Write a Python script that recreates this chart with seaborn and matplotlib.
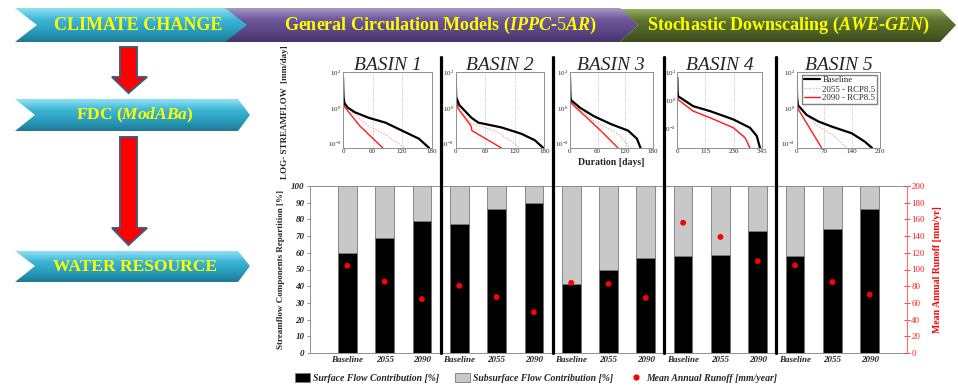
import numpy as np
import pandas as pd
import matplotlib
matplotlib.use('Agg')
import matplotlib.pyplot as plt
import matplotlib.transforms as mtransforms
from matplotlib.patches import Polygon, Patch
from matplotlib.lines import Line2D
from matplotlib.colors import LinearSegmentedColormap
from matplotlib.ticker import NullLocator, FixedLocator
import seaborn as sns

# ---- bar chart data (5 basins x 3 periods)
periods = ['Baseline', '2055', '2090'] * 5
surface = [60.0, 69.0, 78.8, 77.5, 86.3, 89.6, 41.4, 50.0, 56.8, 57.8, 58.4, 73.2, 58.2, 74.0, 86.0]
runoff = [104.5, 85.5, 64.5, 80.5, 67.0, 48.8, 84.0, 82.8, 66.0, 156.0, 139.0, 110.0, 105.0, 85.0, 70.0]

# ---- flow duration curves: (duration [days], log10 streamflow [mm/day])
basins = ['BASIN 1', 'BASIN 2', 'BASIN 3', 'BASIN 4', 'BASIN 5']
fdc_xmax = [180, 180, 180, 345, 210]
fdc_ymin = [-2.25, -2.25, -2.25, -3.4, -2.25]

b1_base = ([0, 1, 3, 10, 24, 52, 86, 120, 154, 175], [1.7, 0.6, 0.25, 0.0, -0.25, -0.56, -0.83, -1.28, -1.73, -2.25])
b1_2055 = ([0, 1, 3, 51, 85, 126], [1.7, 0.5, 0.15, -1.01, -1.5, -2.25])
b1_2090 = ([0, 1, 3, 34, 81], [1.7, 0.4, 0.05, -1.01, -2.25])

b2_base = ([0, 1, 7, 32, 46, 93, 134, 161, 178], [1.7, 0.6, 0.16, -0.56, -0.83, -1.1, -1.46, -1.82, -2.25])
b2_2055 = ([0, 1, 5, 32, 80, 120, 130], [1.7, 0.5, 0.0, -0.88, -1.28, -2.0, -2.25])
b2_2090 = ([0, 1, 5, 31, 33, 93], [1.7, 0.4, -0.05, -1.01, -1.28, -2.25])

b3_base = ([0, 1, 2, 22, 52, 90, 127, 146, 154], [1.7, 0.6, 0.43, 0.0, -0.47, -0.92, -1.28, -1.73, -2.25])
b3_2055 = ([0, 1, 3, 52, 105, 131], [1.7, 0.5, 0.3, -0.74, -1.46, -2.25])
b3_2090 = ([0, 1, 3, 37, 67, 105], [1.7, 0.45, 0.25, -0.56, -1.28, -2.25])

b4_base = ([0, 1, 3, 65, 134, 229, 297, 325, 338], [1.6, 0.7, 0.28, -0.43, -0.78, -1.37, -1.96, -2.55, -3.4])
b4_2055 = ([0, 1, 3, 65, 134, 229, 277, 297], [1.6, 0.5, 0.04, -0.78, -1.25, -1.96, -2.67, -3.4])
b4_2090 = ([0, 1, 3, 65, 134, 229, 277, 297], [1.6, 0.5, 0.04, -0.78, -1.25, -1.96, -2.67, -3.4])

b5_base = ([0, 1, 3, 25, 55, 88, 139, 172, 190], [1.7, 0.6, 0.15, -0.4, -0.77, -1.05, -1.43, -1.9, -2.25])
b5_2055 = ([0, 1, 3, 55, 97, 126], [1.7, 0.5, 0.05, -1.05, -1.62, -2.25])
b5_2090 = ([0, 1, 3, 38, 63], [1.7, 0.4, -0.05, -1.33, -2.25])

curves = [(b1_base, b1_2055, b1_2090), (b2_base, b2_2055, b2_2090), (b3_base, b3_2055, b3_2090),
          (b4_base, b4_2055, b4_2090), (b5_base, b5_2055, b5_2090)]

sns.set_style('white')
plt.rcParams['font.family'] = ['Liberation Serif', 'DejaVu Serif']
plt.rcParams['mathtext.fontset'] = 'custom'
plt.rcParams['mathtext.it'] = 'Liberation Serif:italic:bold'
plt.rcParams['mathtext.rm'] = 'Liberation Serif'

W, H = 958, 386
fig = plt.figure(figsize=(W / 100, H / 100), dpi=100)

def px_axes(x0, x1, y0, y1, **kw):
    return fig.add_axes([x0 / W, 1 - y1 / H, (x1 - x0) / W, (y1 - y0) / H], **kw)

# ---- background: banners and arrows
bg = px_axes(0, W, 0, H, zorder=-1)

def chevron(pts, colors):
    poly = Polygon(pts, closed=True, facecolor='none', edgecolor='none')
    bg.add_patch(poly)
    xs = [p[0] for p in pts]
    ys = [p[1] for p in pts]
    cmap = LinearSegmentedColormap.from_list('g', colors)
    grad = np.linspace(0, 1, 64).reshape(-1, 1)
    im = bg.imshow(grad, cmap=cmap, extent=(min(xs), max(xs), max(ys), min(ys)),
                   aspect='auto', interpolation='bilinear')
    im.set_clip_path(poly)

cyan = ['#8fe0f2', '#3fb6d6', '#2a9dbd', '#1e7a96']
purple = ['#a797c8', '#6c589a', '#5c4887', '#45356b']
green = ['#98ad62', '#5d7430', '#4f6326', '#3b4a1c']

chevron([(620, 9), (940, 9), (956, 25), (940, 42), (620, 42), (638, 25)], green)
chevron([(223, 8), (620, 8), (638, 25), (620, 42), (223, 42), (245, 25)], purple)
chevron([(15, 8), (225, 8), (247, 25), (225, 42), (15, 42), (37, 25)], cyan)
chevron([(15, 99), (238, 99), (250, 115), (238, 131), (15, 131), (35, 115)], cyan)
chevron([(15, 251), (238, 251), (250, 266), (238, 282), (15, 282), (35, 266)], cyan)

ytxt = '#ffff00'
bg.text(138, 25.5, 'CLIMATE CHANGE', ha='center', va='center', color=ytxt, fontsize=13, fontweight='bold')
bg.text(440, 25.5, r'General Circulation Models ($\mathit{IPPC}$-$\mathit{5AR}$)', ha='center', va='center',
        color=ytxt, fontsize=13, fontweight='bold')
bg.text(788, 25.5, r'Stochastic Downscaling ($\mathit{AWE}$-$\mathit{GEN}$)', ha='center', va='center',
        color=ytxt, fontsize=13, fontweight='bold')
bg.text(135, 115.5, r'FDC ($\mathit{ModABa}$)', ha='center', va='center', color=ytxt, fontsize=12.5, fontweight='bold')
bg.text(135, 267, 'WATER RESOURCE', ha='center', va='center', color=ytxt, fontsize=12.5, fontweight='bold')

def arrow(y0, yh, yt):
    pts = [(120, y0), (137, y0), (137, yh), (147, yh), (128.5, yt), (112, yh), (120, yh)]
    bg.add_patch(Polygon(pts, closed=True, facecolor='#ff0000', edgecolor='#3d5a80', lw=1.4))

arrow(47, 77, 93)
arrow(137, 228, 245)

bg.set_xlim(0, W)
bg.set_ylim(H, 0)
bg.axis('off')

# ---- bar chart
df = pd.DataFrame({'idx': range(15), 'total': [100] * 15, 'surface': surface, 'runoff': runoff})
ax = px_axes(310, 907, 186, 353)
sns.barplot(data=df, x='idx', y='total', color='#c8c8c8', width=0.5, saturation=1,
            edgecolor='#7a7a7a', linewidth=0.6, ax=ax)
sns.barplot(data=df, x='idx', y='surface', color='black', width=0.5, saturation=1,
            edgecolor='#7a7a7a', linewidth=0.6, ax=ax)
ax.set_xlim(-1, 15)
ax.set_ylim(0, 100)
ax.set_yticks(range(0, 101, 10))
ax.set_xticks(range(15))
ax.set_xticklabels(periods, fontsize=6.5, style='italic', fontweight='bold')
for t in ax.get_yticklabels():
    t.set_fontsize(6.5)
    t.set_style('italic')
    t.set_fontweight('bold')
ax.tick_params(axis='x', length=0, pad=2)
ax.tick_params(axis='y', length=2.5, width=0.6, color='#808080', pad=1.5, left=True)
ax.set_xlabel('')
ax.set_ylabel('Streamflow Components Repartition [%]', fontsize=6.5, fontweight='bold')
ax.yaxis.set_label_coords(-0.042, 0.5)
for s in ax.spines.values():
    s.set_color('#909090')
    s.set_linewidth(0.7)

ax2 = ax.twinx()
sns.scatterplot(data=df, x='idx', y='runoff', color='#ff0000', s=18, edgecolor='none', ax=ax2, zorder=5)
ax2.set_ylim(0, 200)
ax2.set_xlim(-1, 15)
ax2.set_yticks(range(0, 201, 20))
ax2.tick_params(axis='y', colors='#ff2020', labelsize=6.5, direction='inout', length=4, width=0.6, pad=1)
ax2.set_ylabel('Mean Annual Runoff [mm/yr]', color='#ff0000', fontsize=7, fontweight='bold')
ax2.yaxis.set_label_coords(1.044, 0.5)
ax2.spines['right'].set_color('#ff7070')
for k in ['left', 'top', 'bottom']:
    ax2.spines[k].set_visible(False)

# separators between basins, running up through the FDC row
trans = mtransforms.blended_transform_factory(ax.transData, fig.transFigure)
for xs in [2.5, 5.5, 8.5, 11.5]:
    fig.add_artist(Line2D([xs, xs], [1 - 353 / H, 1 - 57 / H], transform=trans, color='black', lw=2.3))

# ---- flow duration curve panels
fdc_box = [(343, 431.7), (455.7, 544.3), (570, 652.5), (677.3, 761.7), (796.7, 880)]
for i, (x0, x1) in enumerate(fdc_box):
    a = px_axes(x0, x1, 72, 148)
    base, f55, f90 = curves[i]
    sns.lineplot(x=f55[0], y=10 ** np.array(f55[1]), ax=a, color='#ff8c8c', lw=0.8, linestyle=':',
                 sort=False, estimator=None, label='2055 - RCP8.5')
    sns.lineplot(x=f90[0], y=10 ** np.array(f90[1]), ax=a, color='#ff1a1a', lw=1.0,
                 sort=False, estimator=None, label='2090 - RCP8.5')
    sns.lineplot(x=base[0], y=10 ** np.array(base[1]), ax=a, color='black', lw=1.6,
                 sort=False, estimator=None, label='Baseline')
    a.set_yscale('log')
    a.set_ylim(10 ** fdc_ymin[i], 100)
    xm = fdc_xmax[i]
    a.set_xlim(0, xm)
    a.set_xticks([0, xm // 3, 2 * xm // 3, xm])
    a.yaxis.set_major_locator(FixedLocator([1e-2, 1, 1e2]))
    a.yaxis.set_minor_locator(NullLocator())
    a.grid(axis='x', linestyle=':', color='#b0b0b0', lw=0.6)
    a.grid(axis='y', visible=False)
    a.tick_params(labelsize=5, length=0, pad=1)
    a.set_xlabel('')
    a.set_ylabel('')
    for s in a.spines.values():
        s.set_color('#909090')
        s.set_linewidth(0.7)
    a.set_title(basins[i], fontsize=14, style='italic', pad=1.5)
    if i == 4:
        h, l = a.get_legend_handles_labels()
        order = [2, 0, 1]
        a.legend([h[k] for k in order], [l[k] for k in order], loc='upper right', fontsize=6.3,
                 frameon=True, fancybox=False, edgecolor='#808080', framealpha=1,
                 labelspacing=0.1, borderpad=0.2, handlelength=1.8, handletextpad=0.3, borderaxespad=0.3)
    else:
        a.get_legend().remove()

fig.text(285 / W, 1 - 112 / H, 'LOG- STREAMFLOW  [mm/day]', rotation=90, ha='center', va='center',
         fontsize=6.5, fontweight='bold')
fig.text(611 / W, 1 - 163 / H, 'Duration [days]', ha='center', va='center', fontsize=7, fontweight='bold')

# ---- bottom legend
handles = [Patch(facecolor='black', edgecolor='#7a7a7a', lw=0.6),
           Patch(facecolor='#c8c8c8', edgecolor='#7a7a7a', lw=0.6),
           Line2D([], [], marker='o', color='#ff0000', linestyle='', markersize=3.5)]
labels = ['Surface Flow Contribution [%]', 'Subsurface Flow Contribution [%]', 'Mean Annual Runoff [mm/year]']
fig.legend(handles, labels, loc='center left', bbox_to_anchor=(290 / W, 1 - 378 / H), ncol=3, frameon=False,
           prop={'family': 'Liberation Serif', 'style': 'italic', 'weight': 'bold', 'size': 7},
           handlelength=1.6, handleheight=1.0, handletextpad=0.25, columnspacing=1.6, borderpad=0)

fig.savefig('out.png', dpi=100)
